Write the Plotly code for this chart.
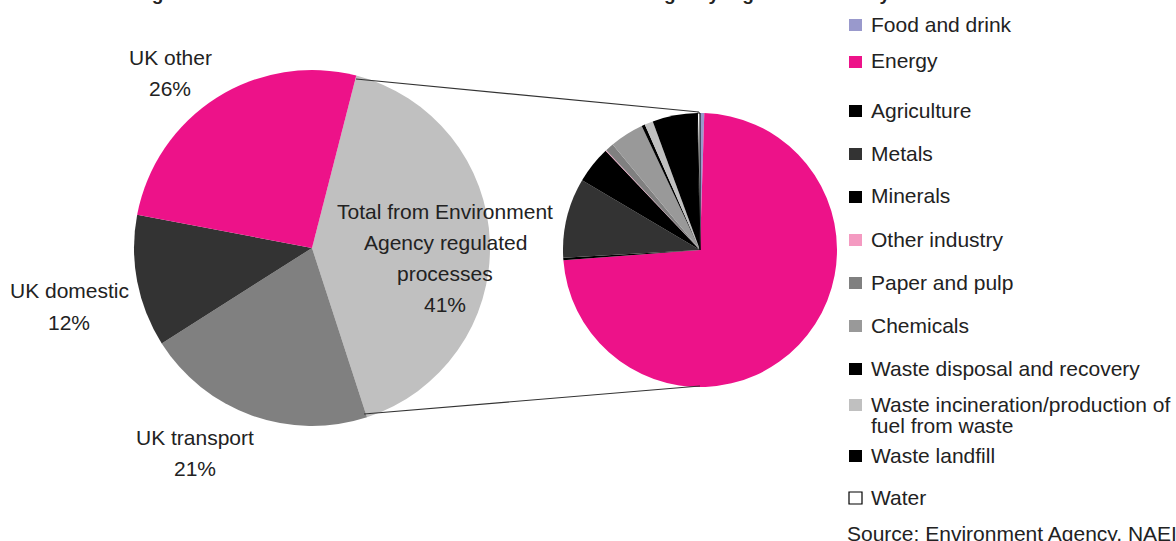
import plotly.graph_objects as go

# ---- data ----
uk_labels = ["Total from Environment<br>Agency regulated<br>processes", "UK transport", "UK domestic", "UK other"]
uk_values = [41, 21, 12, 26]
uk_colors = ["#c0c0c0", "#808080", "#333333", "#ed1289"]

ea_labels = ["Food and drink", "Energy", "Agriculture", "Metals", "Minerals", "Other industry",
             "Paper and pulp", "Chemicals", "Waste disposal and recovery",
             "Waste incineration/production of<br>fuel from waste", "Waste landfill", "Water"]
ea_values = [0.5, 73.3, 0.3, 9.4, 4.4, 0.1, 1.0, 4.0, 0.4, 1.0, 5.3, 0.3]
ea_colors = ["#9999cc", "#ed1289", "#000000", "#333333", "#000000", "#f49ac1",
             "#808080", "#999999", "#000000", "#c0c0c0", "#000000", "#ffffff"]

title_text = "Sources of nitrogen oxides emissions in the UK and from Environment Agency regulated industry"
source_text = "Source: Environment Agency, NAEI"

W, H = 1176, 541
FONT = "Liberation Sans, Arial, sans-serif"
TXT = "#222222"


def px(x):
    return x / W


def py(y):
    return 1 - y / H


fig = go.Figure()

# big pie: centre (312,248), r 178
fig.add_trace(go.Pie(
    values=uk_values, labels=uk_labels, sort=False, direction="clockwise", rotation=14.4,
    marker=dict(colors=uk_colors, line=dict(width=0)), textinfo="none", showlegend=False,
    domain=dict(x=[px(312 - 178), px(312 + 178)], y=[py(248 + 178), py(248 - 178)]),
))

# small pie: centre (700,250), r 137
fig.add_trace(go.Pie(
    values=ea_values, labels=ea_labels, sort=False, direction="clockwise", rotation=0,
    marker=dict(colors=ea_colors,
                line=dict(width=[0] * 11 + [1], color="#000000")),
    textinfo="none", showlegend=False,
    domain=dict(x=[px(700 - 137), px(700 + 137)], y=[py(250 + 137), py(250 - 137)]),
))

annotations = []
shapes = []


def add_text(text, x, y, xanchor="center", yanchor="middle", size=21, bold=False):
    annotations.append(dict(
        text=f"<b>{text}</b>" if bold else text, x=px(x), y=py(y), xref="paper", yref="paper",
        xanchor=xanchor, yanchor=yanchor, showarrow=False,
        font=dict(family=FONT, size=size, color=TXT)))


# big pie labels (name line, percent line)
label_pos = {
    "UK other": (170, 57, 88),
    "UK domestic": (69, 290, 322),
    "UK transport": (195, 437, 468),
}
for lab, val in zip(uk_labels, uk_values):
    if lab in label_pos:
        x, y1, y2 = label_pos[lab]
        add_text(lab, x, y1)
        add_text(f"{val}%", x, y2)
    else:
        lines = lab.split("<br>") + [f"{val}%"]
        for i, ln in enumerate(lines):
            add_text(ln, 445, 211 + 31 * i)

# connector lines
for (x0, y0, x1, y1) in [(356, 79, 699, 112), (364, 414, 700, 386)]:
    shapes.append(dict(type="line", xref="paper", yref="paper",
                       x0=px(x0), y0=py(y0), x1=px(x1), y1=py(y1),
                       line=dict(color="#333333", width=1.2)))

# custom legend
legend_y = [24, 61, 110, 153, 196, 239, 282, 325, 368, 404, 455, 497]
for lab, col, y in zip(ea_labels, ea_colors, legend_y):
    shapes.append(dict(type="rect", xref="paper", yref="paper",
                       x0=px(849), x1=px(862), y0=py(y + 7), y1=py(y - 5),
                       fillcolor=col,
                       line=dict(color="#000000" if col == "#ffffff" else col, width=1.2 if col == "#ffffff" else 0)))
    lines = lab.split("<br>")
    for i, ln in enumerate(lines):
        add_text(ln, 869, y + 21 * i, xanchor="left")

add_text(source_text, 845, 533, xanchor="left")

# title, cut off at the top of the page as in the reference
add_text(title_text, 4, 6, xanchor="left", yanchor="bottom", size=19, bold=True)

fig.update_layout(
    width=W, height=H, margin=dict(l=0, r=0, t=0, b=0),
    paper_bgcolor="#ffffff", plot_bgcolor="#ffffff",
    annotations=annotations, shapes=shapes, showlegend=False,
)

fig.write_html("out.html")
